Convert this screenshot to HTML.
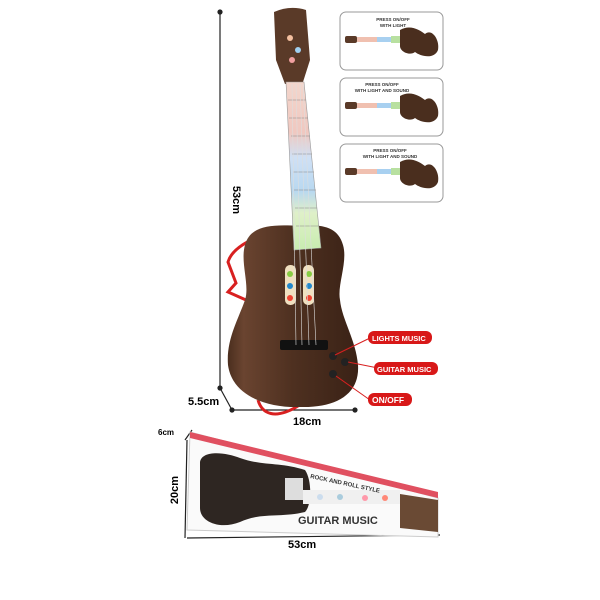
<!DOCTYPE html>
<html><head><style>body{margin:0;background:#fff}svg{display:block}</style></head><body>
<svg width="600" height="600" viewBox="0 0 600 600" xmlns="http://www.w3.org/2000/svg" font-family="Liberation Sans, sans-serif">
<defs>
<linearGradient id="wood" x1="0" x2="1"><stop offset="0" stop-color="#4a2e1e"/><stop offset="0.12" stop-color="#6a4430"/><stop offset="0.5" stop-color="#4e3020"/><stop offset="1" stop-color="#3a2216"/></linearGradient>
<linearGradient id="fret" x1="0" y1="0" x2="0" y2="1"><stop offset="0" stop-color="#f3d6cc"/><stop offset="0.3" stop-color="#f0c8c0"/><stop offset="0.45" stop-color="#cfe0f5"/><stop offset="0.65" stop-color="#b8d8f0"/><stop offset="0.78" stop-color="#dff0c8"/><stop offset="1" stop-color="#c8ecb0"/></linearGradient>
</defs>
<g stroke="#222" stroke-width="1.2" fill="#222">
<line x1="220" y1="12" x2="220" y2="388"/><circle cx="220" cy="12" r="2"/><circle cx="220" cy="388" r="2"/>
<line x1="220" y1="388" x2="232" y2="410"/>
<line x1="232" y1="410" x2="355" y2="410"/><circle cx="232" cy="410" r="2"/><circle cx="355" cy="410" r="2"/>
</g>
<text x="233" y="200" font-size="11" font-weight="bold" transform="rotate(90 233 200)" text-anchor="middle">53cm</text>
<text x="188" y="405" font-size="11" font-weight="bold">5.5cm</text>
<text x="293" y="425" font-size="11" font-weight="bold">18cm</text>
<path d="M268 232 C250 240 232 248 228 262 L236 283 L228 292 L246 300 M258 400 C262 414 275 420 298 406" stroke="#d82020" stroke-width="3" fill="none"/>
<path d="M274 12 Q290 5 306 10 L310 60 L303 82 L285 84 L276 60 Z" fill="#5a3a28"/>
<circle cx="290" cy="38" r="3" fill="#f5c0a0"/><circle cx="298" cy="50" r="3" fill="#a0d0f0"/><circle cx="292" cy="60" r="3" fill="#f0a0a0"/>
<path d="M300 226 C270 224 250 226 245 245 C240 262 250 285 245 300 C238 320 226 340 228 365 C232 395 265 408 300 407 C335 408 360 395 358 365 C356 340 342 320 340 300 C337 285 348 262 343 245 C338 226 320 224 300 226Z" fill="url(#wood)"/>
<path d="M286 82 L304 82 L321 248 L294 250 Z" fill="url(#fret)" stroke="#999" stroke-width="0.6"/>
<g stroke="#888" stroke-width="0.5"><line x1="288" y1="100" x2="306" y2="100"/><line x1="289" y1="118" x2="308" y2="118"/><line x1="291" y1="136" x2="310" y2="136"/><line x1="292" y1="154" x2="312" y2="154"/><line x1="293" y1="172" x2="314" y2="172"/><line x1="294" y1="190" x2="316" y2="190"/><line x1="295" y1="208" x2="317" y2="208"/><line x1="296" y1="226" x2="319" y2="226"/></g>
<rect x="285" y="265" width="11" height="40" rx="5" fill="#f0e0c0"/><rect x="303" y="265" width="11" height="40" rx="5" fill="#f0e0c0"/>
<circle cx="290" cy="274" r="3" fill="#8c4"/><circle cx="290" cy="286" r="3" fill="#28c"/><circle cx="290" cy="298" r="3" fill="#e43"/>
<circle cx="309" cy="274" r="3" fill="#8c4"/><circle cx="309" cy="286" r="3" fill="#28c"/><circle cx="309" cy="298" r="3" fill="#e43"/>
<rect x="280" y="340" width="48" height="10" rx="2" fill="#111"/>
<g stroke="#ddd" stroke-width="0.6"><line x1="292" y1="84" x2="296" y2="345"/><line x1="296" y1="84" x2="302" y2="345"/><line x1="300" y1="84" x2="309" y2="345"/><line x1="303" y1="84" x2="316" y2="345"/></g>
<circle cx="333" cy="356" r="4" fill="#222"/><circle cx="345" cy="362" r="4" fill="#222"/><circle cx="333" cy="374" r="4" fill="#222"/>
<g stroke="#d82020" stroke-width="1"><line x1="335" y1="355" x2="370" y2="338"/><line x1="348" y1="362" x2="378" y2="368"/><line x1="336" y1="376" x2="370" y2="400"/></g>
<g font-size="7.5" font-weight="bold" fill="#fff">
<rect x="368" y="331" width="64" height="13" rx="6" fill="#d81818"/><text x="372" y="341">LIGHTS MUSIC</text>
<rect x="374" y="362" width="64" height="13" rx="6" fill="#d81818"/><text x="377" y="372">GUITAR MUSIC</text>
<rect x="368" y="393" width="44" height="13" rx="6" fill="#d81818"/><text x="372" y="403" font-size="8.5">ON/OFF</text>
</g>
<g>
<rect x="340" y="12" width="103" height="58" rx="6" fill="#fff" stroke="#999"/>
<rect x="340" y="78" width="103" height="58" rx="6" fill="#fff" stroke="#999"/>
<rect x="340" y="144" width="103" height="58" rx="6" fill="#fff" stroke="#999"/>
<g font-size="4.5" font-weight="bold" text-anchor="middle" fill="#333">
<text x="393" y="21">PRESS ON/OFF</text><text x="393" y="27">WITH LIGHT</text>
<text x="382" y="86">PRESS ON/OFF</text><text x="382" y="92">WITH LIGHT AND SOUND</text>
<text x="390" y="152">PRESS ON/OFF</text><text x="390" y="158">WITH LIGHT AND SOUND</text>
</g>
<g id="mini">
<rect x="345" y="36" width="12" height="7" rx="2" fill="#5a3a28"/>
<rect x="357" y="37" width="20" height="5" fill="#f0c0b0"/><rect x="377" y="37" width="14" height="5" fill="#a8d0f0"/><rect x="391" y="36" width="12" height="7" fill="#b8e0a0"/>
<path d="M400 30 C410 24 420 30 425 34 C432 28 440 40 438 50 C434 60 420 56 415 52 C410 56 400 52 400 46 Z" fill="#4a2e1e"/>
</g>
<use href="#mini" y="66"/><use href="#mini" y="132"/>
</g>
<text x="158" y="435" font-size="8" font-weight="bold">6cm</text>
<text x="178" y="490" font-size="11" font-weight="bold" transform="rotate(-90 178 490)" text-anchor="middle">20cm</text>
<g stroke="#222" stroke-width="1.2"><line x1="187" y1="440" x2="185" y2="538"/><line x1="187" y1="538" x2="440" y2="535"/><line x1="185" y1="440" x2="192" y2="430"/></g>
<polygon points="190,432 438,498 438,537 187,530" fill="#fafafa" stroke="#ccc"/>
<polygon points="190,432 438,492 438,498 190,438" fill="#e05060"/>
<path d="M200 462 C202 450 225 452 240 458 C262 466 280 462 305 470 C312 480 312 505 305 512 C280 518 262 512 240 522 C220 530 200 522 200 508 Z" fill="#2e2622"/>
<rect x="285" y="478" width="18" height="22" fill="#ddd"/>
<rect x="303" y="490" width="97" height="14" fill="#f0f0f0"/>
<circle cx="320" cy="497" r="3" fill="#cde"/><circle cx="340" cy="497" r="3" fill="#acd"/><circle cx="365" cy="498" r="3" fill="#f9a"/><circle cx="385" cy="498" r="3" fill="#f87"/>
<path d="M400 494 L438 500 L438 532 L400 528 Z" fill="#6a4a34"/>
<text x="298" y="524" font-size="11" font-weight="bold" fill="#333">GUITAR MUSIC</text>
<text x="310" y="478" font-size="6" font-weight="bold" fill="#333" transform="rotate(12 310 478)">ROCK AND ROLL STYLE</text>
<text x="288" y="548" font-size="11" font-weight="bold">53cm</text>
</svg>
</body></html>
